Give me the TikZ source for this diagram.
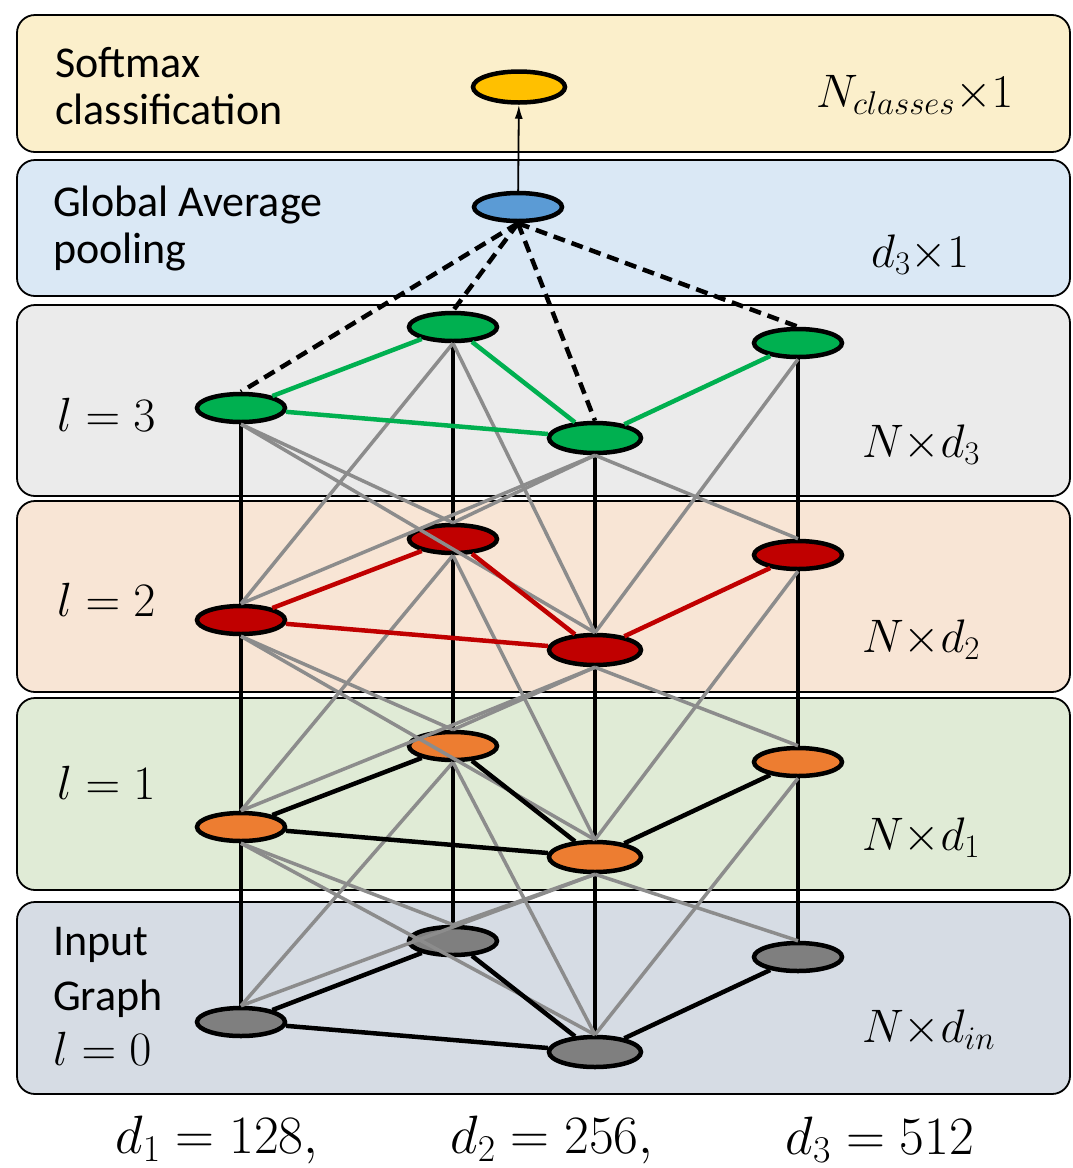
\RequirePackage{fix-cm}
\documentclass[tikz,border=0pt]{standalone}
\usepackage{fontspec}
\setmainfont{Carlito}
\usepackage{xcolor}
\definecolor{softbg}{HTML}{FBEFCB}
\definecolor{poolbg}{HTML}{DAE8F5}
\definecolor{lthreebg}{HTML}{EBEBEB}
\definecolor{ltwobg}{HTML}{F8E5D5}
\definecolor{lonebg}{HTML}{E0EBD6}
\definecolor{inputbg}{HTML}{D6DCE4}
\definecolor{softgold}{HTML}{FFC000}
\definecolor{poolblue}{HTML}{5B9BD5}
\definecolor{gcngreen}{HTML}{00B050}
\definecolor{gcnred}{HTML}{C00000}
\definecolor{gcnorange}{HTML}{ED7D31}
\definecolor{gcngray}{HTML}{7F7F7F}
\definecolor{msggray}{HTML}{8C8C8C}
\usepackage{tikz}
\usetikzlibrary{shapes.geometric,arrows.meta}

\begin{document}
\begin{tikzpicture}[x=1pt,y=-1pt,
  band/.style={draw=black, line width=1.8pt, rounded corners=18pt},
  gcnnode/.style={ellipse, draw=black, line width=4.5pt, minimum width=88pt,
                  minimum height=28pt, inner sep=0pt},
  msgedge/.style={draw=msggray, line width=3.5pt},
  vertedge/.style={draw=black, line width=4pt},
  pooledge/.style={draw=black, line width=4.5pt, dash pattern=on 12pt off 7pt},
  lbl/.style={font=\fontsize{44}{47}\selectfont, align=left, inner sep=0pt, anchor=west},
  dimlbl/.style={font=\fontsize{47}{50}\selectfont, inner sep=0pt, anchor=west},
  hyper/.style={font=\fontsize{54}{56}\selectfont, inner sep=0pt}]
  \useasboundingbox (0,0) rectangle (1072,1168);
  % Layer bands
  \foreach \ytop/\ybot/\bg in {15/152/softbg, 160/296/poolbg, 305/496/lthreebg,
                               501/692/ltwobg, 698/890/lonebg, 902/1094/inputbg} {
    \filldraw[band, fill=\bg] (17,\ytop) rectangle (1070,\ybot);
  }
  % Graph nodes, one copy per layer
  \foreach \l/\y/\fc in {0/1022/gcngray, 1/827/gcnorange, 2/620/gcnred, 3/408/gcngreen} {
    \node[gcnnode, fill=\fc] (A\l) at (241,\y) {};
    \node[gcnnode, fill=\fc] (B\l) at (453,\y-81) {};
    \node[gcnnode, fill=\fc, minimum width=92pt, minimum height=30pt] (C\l) at (595,\y+30) {};
    \node[gcnnode, fill=\fc] (D\l) at (798,\y-65) {};
  }
  % Self links and neighbour messages between layers
  \foreach \l/\k in {0/1, 1/2, 2/3} {
    \foreach \u in {A,B,C,D}
      \draw[vertedge] (\u\l.north) -- (\u\k.south);
    \foreach \u/\v in {A/B, B/A, A/C, C/A, B/C, C/B, C/D, D/C}
      \draw[msgedge] (\u\l.north) -- (\v\k.south);
  }
  % Graph edges inside each layer
  \foreach \l/\ec in {0/black, 1/black, 2/gcnred, 3/gcngreen} {
    \draw[line width=4.5pt, \ec] (A\l) -- (B\l) (A\l) -- (C\l)
      (B\l) -- (C\l) (C\l) -- (D\l);
  }
  % Pooling and classifier
  \node[gcnnode, fill=poolblue] (pool) at (518,207) {};
  \node[gcnnode, fill=softgold, minimum width=92pt, minimum height=31pt] (soft) at (519,87) {};
  \foreach \u in {A,B,C,D}
    \draw[pooledge] (pool.south) -- (\u3.north);
  \draw[line width=1.8pt, -{Latex[length=14pt,width=8pt]}] (pool) -- (soft);
  % Left labels
  \node[lbl] (softtxt) at (55,86) {Softmax\\classification};
  \node[lbl] (pooltxt) at (53,228) {Global Average\\pooling};
  \node[lbl, font=\fontsize{48}{50}\selectfont] (lthree) at (57,415) {$l=3$};
  \node[lbl, font=\fontsize{48}{50}\selectfont] (ltwo) at (57,600) {$l=2$};
  \node[lbl, font=\fontsize{48}{50}\selectfont] (lone) at (57,783) {$l=1$};
  \node[lbl, font=\fontsize{44}{55}\selectfont] (inputtxt) at (53,996)
    {Input\\Graph\\\fontsize{48}{55}\selectfont$l=0$};
  % Right labels
  \node[dimlbl] (softdim) at (816,95) {$N_{classes}{\times}1$};
  \node[dimlbl] (pooldim) at (871,255) {$d_3{\times}1$};
  \node[dimlbl] (threedim) at (862,445) {$N{\times}d_3$};
  \node[dimlbl] (twodim) at (862,640) {$N{\times}d_2$};
  \node[dimlbl] (onedim) at (862,838) {$N{\times}d_1$};
  \node[dimlbl] (indim) at (862,1030) {$N{\times}d_{in}$};
  % Hidden sizes
  \node[hyper] (dimone) at (217,1140) {$d_1=128,$};
  \node[hyper] (dimtwo) at (552,1140) {$d_2=256,$};
  \node[hyper] (dimthree) at (880,1140) {$d_3=512$};
\end{tikzpicture}
\end{document}
